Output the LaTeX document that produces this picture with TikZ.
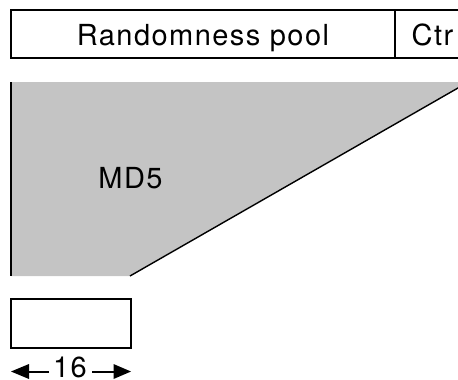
\documentclass[tikz,border=0pt]{standalone}
\usepackage{fontspec}
\setmainfont{TeX Gyre Heros}[LetterSpace=5]
\definecolor{poolgray}{RGB}{196,196,196}
\tikzset{
  lbl/.style={font=\fontsize{29}{31}\selectfont, inner sep=0pt, anchor=base},
  outline/.style={draw=black, line width=1.4pt},
  shaft/.style={line width=2pt}
}
\begin{document}
\begin{tikzpicture}[x=1pt,y=-1pt]
\useasboundingbox (0,0) rectangle (458,380);
\clip (0,0) rectangle (458,380);
% top box
\draw[outline] (11,10) rectangle (470,58);
\draw[outline] (395,10) -- (395,58);
\node[lbl] (pool) at (203,45) {Randomness pool};
\node[lbl] (ctr) at (432.5,45) {Ctr};
% MD5 region
\fill[poolgray] (11,82) -- (470,82) -- (470,81.1) -- (130,276) -- (11,276) -- cycle;
\coordinate (lt) at (11,82);
\coordinate (lb) at (11,276);
\coordinate (sb) at (130,276);
\coordinate (se) at (470,81.1);
\draw[line width=1.4pt] (lt) -- (lb);
\draw[line width=1.4pt] (sb) -- (se);
\node[lbl] (md5) at (130.5,188) {MD5};
% small box
\node[outline, minimum width=120pt, minimum height=49pt, inner sep=0pt] (buf) at (71,323.5) {};
% dimension
\node[lbl] (sixteen) at (70,377) {16};
\coordinate (al) at (11,371.5);
\coordinate (ar) at (131,371.5);
\coordinate (alb) at (29,371.5);
\coordinate (arb) at (113.5,371.5);
\draw[shaft] (49,371.5) -- (alb);
\draw[shaft] (92,371.5) -- (arb);
\fill (al) -- ([yshift=-7.5pt]alb) -- ([yshift=7.5pt]alb) -- cycle;
\fill (ar) -- ([yshift=-7.5pt]arb) -- ([yshift=7.5pt]arb) -- cycle;
\end{tikzpicture}
\end{document}
